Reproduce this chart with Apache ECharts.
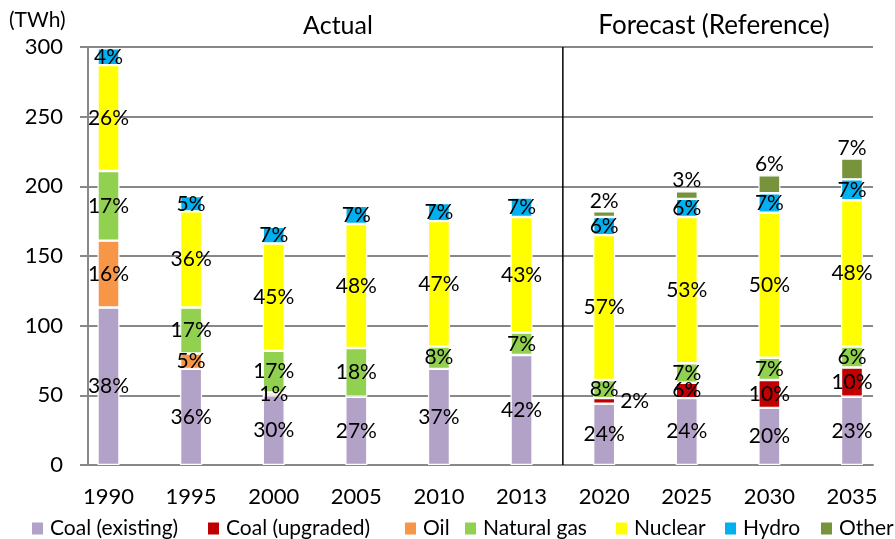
<!DOCTYPE html>
<html>
<head>
<meta charset="utf-8">
<script src="https://cdn.jsdelivr.net/npm/echarts@6/dist/echarts.min.js"></script>
<style>html,body{margin:0;padding:0;background:#fff}#c{width:895px;height:539px}</style>
</head>
<body>
<div id="c"></div>
<script>
const years = ['1990','1995','2000','2005','2010','2013','2020','2025','2030','2035'];
const yTicks = [0, 50, 100, 150, 200, 250, 300];

const coalExisting = [113, 69, 50, 49, 69, 79, 44, 48, 41, 49];
const coalUpgraded = [null, null, null, null, null, null, 4, 11, 20, 21];
const oil          = [48, 11, 2, null, null, null, null, null, null, null];
const naturalGas   = [50, 33, 30, 35, 16, 16, 13, 14, 16, 15];
const nuclear      = [76, 69, 77, 89, 90, 83, 104, 105, 104, 105];
const hydro        = [12, 11, 12, 13, 13, 14, 13, 13, 14, 15];
const other        = [null, null, null, null, null, null, 4, 5.5, 13, 15];

const coalExistingShare = ['38%','36%','30%','27%','37%','42%','24%','24%','20%','23%'];
const coalUpgradedShare = [null,null,null,null,null,null,'2%','6%','10%','10%'];
const oilShare          = ['16%','5%','1%',null,null,null,null,null,null,null];
const naturalGasShare   = ['17%','17%','17%','18%','8%','7%','8%','7%','7%','6%'];
const nuclearShare      = ['26%','36%','45%','48%','47%','43%','57%','53%','50%','48%'];
const hydroShare        = ['4%','5%','7%','7%','7%','7%','6%','6%','7%','7%'];
const otherShare        = [null,null,null,null,null,null,'2%','3%','6%','7%'];

const FONT = 'Lato';
const seriesDefs = [
  {name: 'Coal (existing)', values: coalExisting, shares: coalExistingShare, color: '#b3a2c7'},
  {name: 'Coal (upgraded)', values: coalUpgraded, shares: coalUpgradedShare, color: '#c00000'},
  {name: 'Oil', values: oil, shares: oilShare, color: '#f79646'},
  {name: 'Natural gas', values: naturalGas, shares: naturalGasShare, color: '#92d050'},
  {name: 'Nuclear', values: nuclear, shares: nuclearShare, color: '#ffff00'},
  {name: 'Hydro', values: hydro, shares: hydroShare, color: '#00b0f0'},
  {name: 'Other', values: other, shares: otherShare, color: '#77933c'}
];

const series = seriesDefs.map(function (d) {
  return {
    name: d.name,
    type: 'bar',
    stack: 'total',
    xAxisIndex: 1,
    yAxisIndex: 1,
    barWidth: 22,
    clip: false,
    itemStyle: {color: d.color, borderColor: '#fff', borderWidth: 1.2},
    label: {
      show: true,
      position: d.name === 'Other' ? 'top' : 'inside',
      distance: d.name === 'Other' ? 0 : 5,
      color: '#000',
      fontFamily: FONT,
      fontSize: 21,
      formatter: function (p) { return d.shares[p.dataIndex] || ''; }
    },
    data: d.values.map(function (v, i) {
      if (d.name === 'Coal (upgraded)' && v !== null && v < 5) {
        return {value: v, label: {position: 'right', distance: 5}};
      }
      return v;
    })
  };
});

const legendX = [30, 206, 403, 463, 614, 723, 819];
const legends = seriesDefs.map(function (d, i) {
  return {
    data: [d.name],
    left: legendX[i],
    top: 518,
    itemWidth: 13,
    itemHeight: 14,
    itemGap: 0,
    icon: 'rect',
    padding: 0,
    selectedMode: false,
    textStyle: {fontFamily: FONT, fontSize: 21, color: '#000', padding: [0, 0, 0, 1]}
  };
});

const chart = echarts.init(document.getElementById('c'), null, {renderer: 'canvas'});
const option = {
  animation: false,
  backgroundColor: '#fff',
  textStyle: {fontFamily: FONT},
  title: [
    {text: '(TWh)', left: 9, top: 10, textStyle: {fontFamily: FONT, fontSize: 21, fontWeight: 'normal', color: '#000'}, padding: 0},
    {text: 'Actual', left: 338, top: 13, textAlign: 'center', textStyle: {fontFamily: FONT, fontSize: 25, fontWeight: 'normal', color: '#000'}, padding: 0},
    {text: 'Forecast (Reference)', left: 714, top: 13, textAlign: 'center', textStyle: {fontFamily: FONT, fontSize: 26, fontWeight: 'normal', color: '#000'}, padding: 0}
  ],
  legend: legends,
  grid: [
    {left: 88, right: 22, top: 47, bottom: 74},
    {left: 108.5, right: 43, top: 47, bottom: 74}
  ],
  xAxis: [
    {gridIndex: 0, type: 'category', data: years, axisLabel: {show: false}, axisTick: {show: false},
     axisLine: {lineStyle: {color: '#888', width: 2}}, splitLine: {show: false}},
    {gridIndex: 1, type: 'category', data: years, boundaryGap: false, axisLine: {show: false}, axisTick: {show: false},
     axisLabel: {fontFamily: FONT, fontSize: 22, color: '#000', margin: 21}, splitLine: {show: false}}
  ],
  yAxis: [
    {gridIndex: 0, type: 'value', min: yTicks[0], max: yTicks[yTicks.length - 1], interval: 50,
     axisLine: {show: true, lineStyle: {color: '#888', width: 2}},
     axisTick: {show: true, length: 8, lineStyle: {color: '#888', width: 2}},
     axisLabel: {fontFamily: FONT, fontSize: 22, color: '#000', margin: 25},
     splitLine: {show: true, lineStyle: {color: '#888', width: 2}}},
    {gridIndex: 1, type: 'value', min: yTicks[0], max: yTicks[yTicks.length - 1], interval: 50, show: false,
     splitLine: {show: false}}
  ],
  series: series
};
chart.setOption(option);

// separator between actual and forecast periods
const xa = chart.convertToPixel({xAxisIndex: 1}, '2013');
const xb = chart.convertToPixel({xAxisIndex: 1}, '2020');
const yTop = chart.convertToPixel({yAxisIndex: 0}, 300);
const yBot = chart.convertToPixel({yAxisIndex: 0}, 0);
chart.setOption({
  graphic: [{
    type: 'line', z: 100,
    shape: {x1: (xa + xb) / 2, y1: yTop, x2: (xa + xb) / 2, y2: yBot},
    style: {stroke: '#000', lineWidth: 1.5}
  }]
});
</script>
</body>
</html>
